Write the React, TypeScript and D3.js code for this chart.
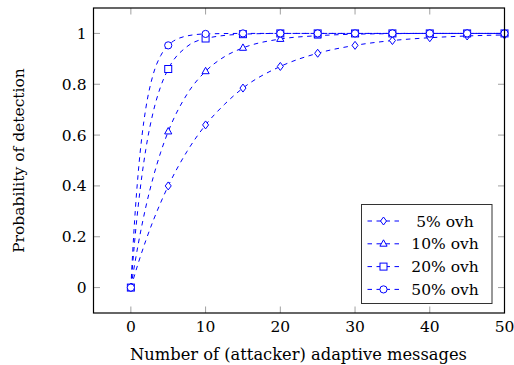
import React from "react";
import * as d3 from "d3";

// marker positions (every 5 messages)
const markerX = [0, 5, 10, 15, 20, 25, 30, 35, 40, 45, 50];
const ovh5 = [0, 0.4, 0.64, 0.785, 0.87, 0.922, 0.953, 0.972, 0.983, 0.99, 0.994];
const ovh10 = [0, 0.614, 0.851, 0.943, 0.978, 0.991, 0.997, 0.999, 1, 1, 1];
const ovh20 = [0, 0.86, 0.98, 0.997, 1, 1, 1, 1, 1, 1, 1];
const ovh50 = [0, 0.953, 0.998, 1, 1, 1, 1, 1, 1, 1, 1];

// dashed curve samples
const curveX5 = [0, 1, 2, 3, 4, 5, 7.5, 10, 12.5, 15, 20, 25, 30, 35, 40, 45, 50];
const curve5 = [0, 0.097, 0.185, 0.264, 0.335, 0.4, 0.535, 0.64, 0.72, 0.785, 0.87, 0.922, 0.953, 0.972, 0.983, 0.99, 0.994];
const curveX10 = [0, 0.5, 1, 2, 3, 4, 5, 7.5, 10, 12.5, 15, 20, 25, 30, 35, 40, 50];
const curve10 = [0, 0.09, 0.173, 0.317, 0.435, 0.533, 0.614, 0.76, 0.851, 0.908, 0.943, 0.978, 0.991, 0.997, 0.999, 1, 1];
const curveX20 = [0, 0.25, 0.5, 1, 2, 3, 4, 5, 7.5, 10, 15, 20, 30, 50];
const curve20 = [0, 0.094, 0.18, 0.325, 0.544, 0.692, 0.792, 0.86, 0.948, 0.98, 0.997, 1, 1, 1];
const curveX50 = [0, 0.125, 0.25, 0.5, 1, 1.5, 2, 3, 4, 5, 7.5, 10, 15, 20, 50];
const curve50 = [0, 0.073, 0.141, 0.263, 0.457, 0.6, 0.705, 0.84, 0.913, 0.953, 0.99, 0.998, 1, 1, 1];

const labels = ["5% ovh", "10% ovh", "20% ovh", "50% ovh"];
const xTicks = [0, 10, 20, 30, 40, 50];
const yTicks = [0, 0.2, 0.4, 0.6, 0.8, 1];

const FONT = "DejaVu Serif";
const BLUE = "#0000ff";

const series = [
  { label: labels[0], mk: ovh5, cx: curveX5, cy: curve5, shape: "diamond" },
  { label: labels[1], mk: ovh10, cx: curveX10, cy: curve10, shape: "triangle" },
  { label: labels[2], mk: ovh20, cx: curveX20, cy: curve20, shape: "square" },
  { label: labels[3], mk: ovh50, cx: curveX50, cy: curve50, shape: "circle" },
];

function Marker({ shape, x, y }: { shape: string; x: number; y: number }) {
  const common = { fill: "white", stroke: BLUE, strokeWidth: 1 };
  if (shape === "diamond")
    return <path d={`M${x},${y - 4}L${x + 3},${y}L${x},${y + 4}L${x - 3},${y}Z`} {...common} />;
  if (shape === "triangle")
    return <path d={`M${x},${y - 4}L${x + 3.6},${y + 2.4}L${x - 3.6},${y + 2.4}Z`} {...common} />;
  if (shape === "square")
    return <rect x={x - 3.5} y={y - 3.5} width={7} height={7} {...common} />;
  return <circle cx={x} cy={y} r={3.6} {...common} />;
}

export default function App() {
  const W = 514, H = 365;
  const m = { l: 93.5, r: 504.5, t: 8, b: 313 };
  const x = d3.scaleLinear().domain([-5, 50]).range([m.l, m.r]);
  const y = d3.scaleLinear().domain([-0.1, 1.1]).range([m.b, m.t]);
  const line = d3
    .line<[number, number]>()
    .x((d) => x(d[0]))
    .y((d) => y(d[1]))
    .curve(d3.curveMonotoneX);
  const tick = 6.5;
  const grey = "#a0a0a0";
  const legend = { x: 361.5, y: 204.5, w: 130.5, h: 99, row: 22.8 };
  const fs = 15.5;

  return (
    <svg width={W} height={H} style={{ position: "absolute", left: 0, top: 0, background: "white" }} fontFamily={FONT}>
      {/* ticks */}
      {xTicks.map((t) => (
        <g key={"xt" + t}>
          <line x1={x(t)} x2={x(t)} y1={m.b} y2={m.b - tick} stroke={grey} strokeWidth={1} />
          <line x1={x(t)} x2={x(t)} y1={m.t} y2={m.t + tick} stroke={grey} strokeWidth={1} />
          <text x={x(t)} y={m.b + 19} textAnchor="middle" fontSize={fs} fill="#000">
            {t}
          </text>
        </g>
      ))}
      {yTicks.map((t) => (
        <g key={"yt" + t}>
          <line x1={m.l} x2={m.l + tick} y1={y(t)} y2={y(t)} stroke={grey} strokeWidth={1} />
          <line x1={m.r} x2={m.r - tick} y1={y(t)} y2={y(t)} stroke={grey} strokeWidth={1} />
          <text x={m.l - 7} y={y(t) + 5.5} textAnchor="end" fontSize={fs} fill="#000">
            {t === 0 || t === 1 ? String(t) : t.toFixed(1)}
          </text>
        </g>
      ))}
      {/* curves */}
      {series.map((s) => (
        <path
          key={"c" + s.label}
          d={line(s.cx.map((v, i) => [v, s.cy[i]] as [number, number])) || ""}
          fill="none"
          stroke={BLUE}
          strokeWidth={1}
          strokeDasharray="4.5 4.5"
        />
      ))}
      {series.map((s) =>
        markerX.map((v, i) => <Marker key={s.label + v} shape={s.shape} x={x(v)} y={y(s.mk[i])} />)
      )}
      {/* frame */}
      <rect x={m.l} y={m.t} width={m.r - m.l} height={m.b - m.t} fill="none" stroke="#000" strokeWidth={1.2} />
      {/* legend */}
      <rect x={legend.x} y={legend.y} width={legend.w} height={legend.h} fill="white" stroke="#333" strokeWidth={1} />
      {series.map((s, i) => {
        const cy = legend.y + 16.5 + i * legend.row;
        return (
          <g key={"lg" + s.label}>
            <line x1={legend.x + 6} x2={legend.x + 38} y1={cy} y2={cy} stroke={BLUE} strokeWidth={1} strokeDasharray="4.5 4.5" />
            <Marker shape={s.shape} x={legend.x + 22} y={cy} />
            <text x={legend.x + 83.5} y={cy + 5.5} textAnchor="middle" fontSize={fs} fill="#000">
              {s.label}
            </text>
          </g>
        );
      })}
      {/* axis labels */}
      <text x={298.5} y={360} textAnchor="middle" fontSize={16.3} fill="#000">
        Number of (attacker) adaptive messages
      </text>
      <text
        transform={`translate(24,${(m.t + m.b) / 2}) rotate(-90)`}
        textAnchor="middle"
        fontSize={fs}
        fill="#000"
      >
        Probability of detection
      </text>
    </svg>
  );
}
